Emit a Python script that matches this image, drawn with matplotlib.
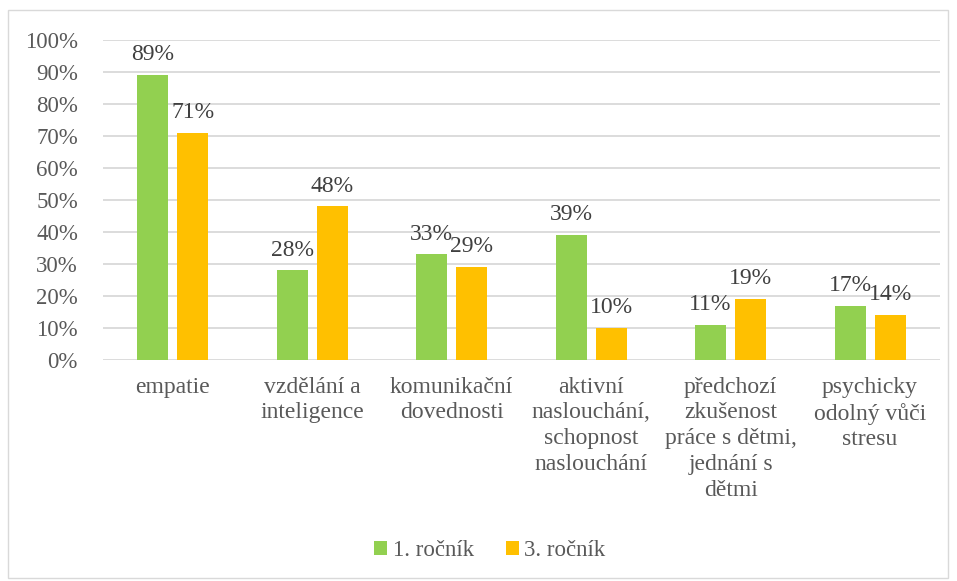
import matplotlib
matplotlib.use("Agg")
import matplotlib.pyplot as plt
import numpy as np
from matplotlib.patches import Rectangle

categories = [
    "empatie",
    "vzdělání a\ninteligence",
    "komunikační\ndovednosti",
    "aktivní\nnaslouchání,\nschopnost\nnaslouchání",
    "předchozí\nzkušenost\npráce s dětmi,\njednání s\ndětmi",
    "psychicky\nodolný vůči\nstresu",
]
series_names = ["1. ročník", "3. ročník"]
rocnik1 = [89, 28, 33, 39, 11, 17]
rocnik3 = [71, 48, 29, 10, 19, 14]
yticks = [0, 10, 20, 30, 40, 50, 60, 70, 80, 90, 100]

green = "#92D050"
orange = "#FFC000"
text_col = "#595959"
grid_col = "#D9D9D9"

plt.rcParams["font.family"] = ["Liberation Serif", "DejaVu Serif"]

fig = plt.figure(figsize=(9.57, 5.81), dpi=100)
ax = fig.add_axes([0.1076, 0.3804, 0.8744, 0.5508])

x = np.arange(len(categories))
w = 0.222
gap = 0.065
b1 = ax.bar(x - (w + gap) / 2, rocnik1, w, color=green, label=series_names[0], zorder=3)
b2 = ax.bar(x + (w + gap) / 2, rocnik3, w, color=orange, label=series_names[1], zorder=3)

for bars, vals in ((b1, rocnik1), (b2, rocnik3)):
    for rect, v in zip(bars, vals):
        ax.annotate(f"{v}%", (rect.get_x() + rect.get_width() / 2, v),
                    xytext=(0, 7), textcoords="offset points",
                    ha="center", va="bottom", fontsize=17, color="#404040")

ax.set_xlim(-0.5, len(categories) - 0.5)
ax.set_ylim(0, 100)
ax.set_yticks(yticks)
ax.set_yticklabels([f"{t}%" for t in yticks], fontsize=16.5, color=text_col)
ax.set_xticks(x)
ax.set_xticklabels(categories, fontsize=17, color=text_col, linespacing=1.3, va="top")
ax.tick_params(axis="both", length=0)
ax.tick_params(axis="y", pad=18)
ax.tick_params(axis="x", pad=12)
ax.grid(axis="y", color=grid_col, linewidth=1.3, zorder=0)
for s in ax.spines.values():
    s.set_visible(False)

leg = fig.legend(handles=[b1, b2], labels=series_names, loc="center",
                 bbox_to_anchor=(0.512, 0.053), ncol=2, frameon=False,
                 fontsize=16.5, handlelength=0.55, handleheight=0.55,
                 handletextpad=0.25, columnspacing=1.4)
for t in leg.get_texts():
    t.set_color(text_col)

fig.patches.append(Rectangle((8 / 957, 3 / 581), 940 / 957, 568 / 581,
                             transform=fig.transFigure, fill=False,
                             edgecolor="#D9D9D9", linewidth=1.0))

fig.savefig("out.png", dpi=100)
